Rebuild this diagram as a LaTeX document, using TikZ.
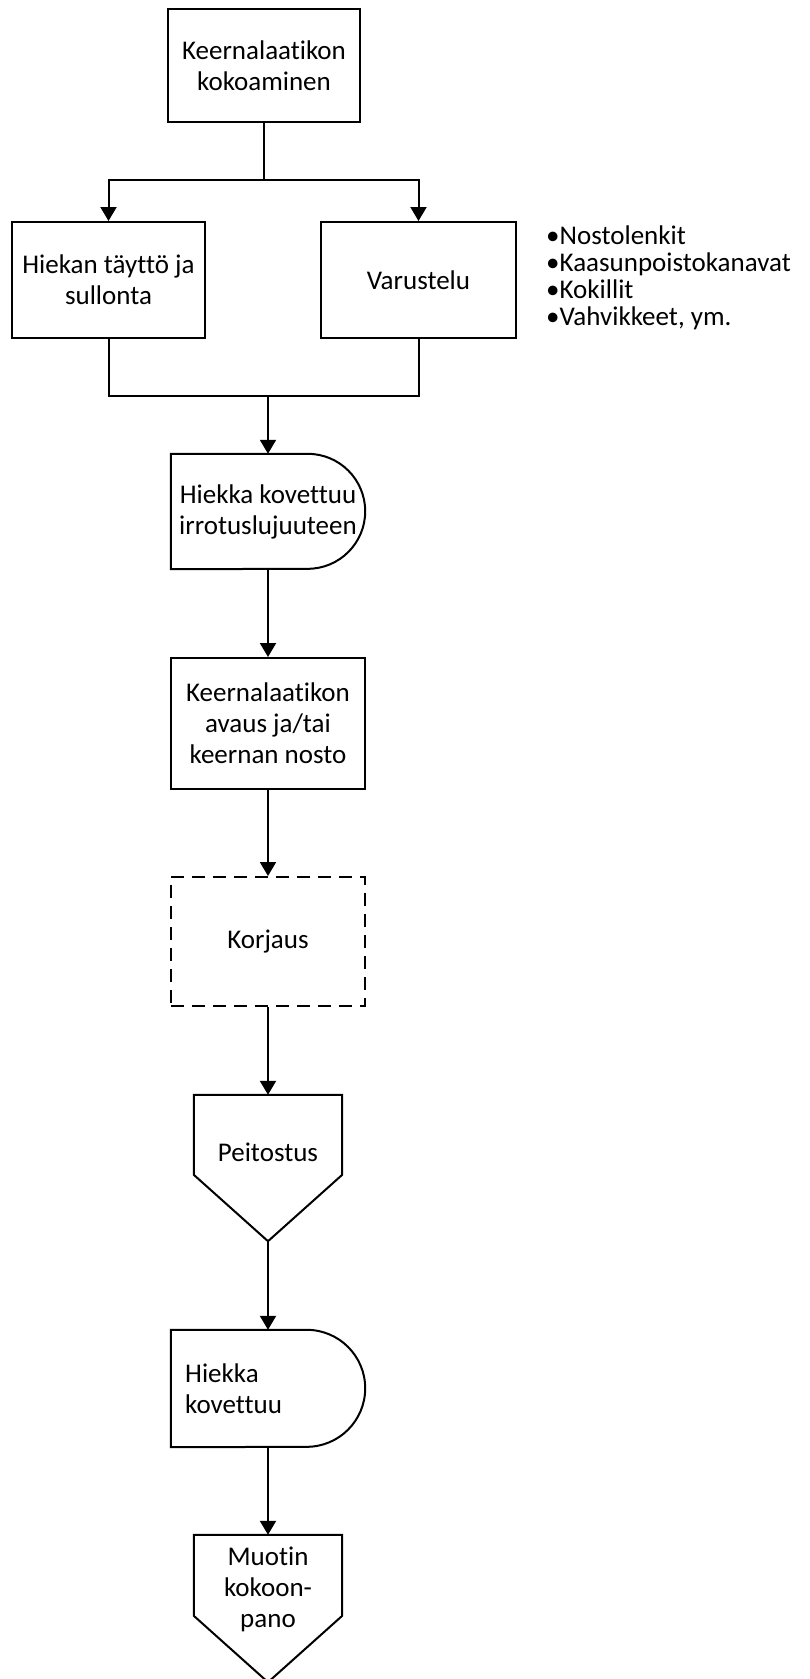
\documentclass[tikz,border=0pt]{standalone}
\usepackage{fontspec}
\setmainfont{Carlito}[Ligatures=NoCommon]
\usetikzlibrary{arrows.meta}
\begin{document}
\begin{tikzpicture}[x=1pt,y=-1pt,
  every node/.style={font=\fontsize{27}{31}\selectfont, align=center, inner sep=0pt},
  outline/.style={line width=2pt, line join=miter},
  proc/.style={draw, outline},
  ghost/.style={draw=none},
  conn/.style={line width=2pt},
  arr/.style={conn, -{Triangle[length=14pt,width=16pt]}},
  listitem/.style={anchor=base west, font=\fontsize{27}{27}\selectfont}
]
% canvas
\fill[white] (0,0) rectangle (809,1679);
\useasboundingbox (0,0) rectangle (809,1679);

% process boxes
\node[proc, minimum width=192pt, minimum height=113pt] (assemble) at (264,65.5) {Keernalaatikon\\kokoaminen};
\node[proc, minimum width=193pt, minimum height=116pt] (fill) at (108.5,280) {Hiekan täyttö ja\\sullonta};
\node[proc, minimum width=195pt, minimum height=116pt] (equip) at (418.5,280) {Varustelu};

% equipment list
\node[listitem] (li1) at (546,244) {•Nostolenkit};
\node[listitem] (li2) at (546,271) {•Kaasunpoistokanavat};
\node[listitem] (li3) at (546,298) {•Kokillit};
\node[listitem] (li4) at (546,325) {•Vahvikkeet, ym.};

% delay: hardening to stripping strength
\node[ghost, minimum width=194pt, minimum height=115pt] (harden) at (268,511.5) {Hiekka kovettuu\\irrotuslujuuteen};
\draw[outline] (harden.north west) -- ([xshift=-57.5pt]harden.north east)
  arc[start angle=-90, end angle=90, radius=57.5] -- (harden.south west) -- cycle;

% opening / lifting
\node[proc, minimum width=194pt, minimum height=131pt] (open) at (268,723.5) {Keernalaatikon\\avaus ja/tai\\keernan nosto};

% optional repair
\node[proc, dash pattern=on 13pt off 8pt, minimum width=194pt, minimum height=129pt] (repair) at (268,941.5) {Korjaus};

% coating (off-page shape)
\node[ghost, minimum width=148pt, minimum height=146pt] (coat) at (268,1168) {};
\draw[outline] (coat.north west) -- (coat.north east) -- ++(0,80) -- (coat.south)
  -- ([yshift=-80pt]coat.north west) -- cycle;
\node (coattext) at (268,1152) {Peitostus};

% delay: hardening
\node[ghost, minimum width=194pt, minimum height=117pt] (cure) at (268,1388.5) {};
\draw[outline] (cure.north west) -- ([xshift=-58.5pt]cure.north east)
  arc[start angle=-90, end angle=90, radius=58.5] -- (cure.south west) -- cycle;
\node[anchor=west, align=left] (curetext) at (185,1388.5) {Hiekka\\kovettuu};

% mould assembly (off-page shape)
\node[ghost, minimum width=148pt, minimum height=147pt] (mould) at (268,1608.5) {};
\draw[outline] (mould.north west) -- (mould.north east) -- ++(0,81) -- (mould.south)
  -- ([yshift=-81pt]mould.north west) -- cycle;
\node (mouldtext) at (268,1589) {Muotin\\kokoon-\\pano};

% connectors
\coordinate (split) at (264,180);
\coordinate (merge) at (268,396);
\draw[conn] (assemble.south) -- (split);
\draw[arr] (split) -| (fill.north);
\draw[arr] (split) -| (equip.north);
\draw[conn] (fill.south) |- (merge) -| (equip.south);
\draw[arr] (merge) -- (harden.north);
\draw[arr] (harden.south) -- (open.north);
\draw[arr] (open.south) -- (repair.north);
\draw[arr] (repair.south) -- (coat.north);
\draw[arr] (coat.south) -- (cure.north);
\draw[arr] (cure.south) -- (mould.north);
\end{tikzpicture}
\end{document}
